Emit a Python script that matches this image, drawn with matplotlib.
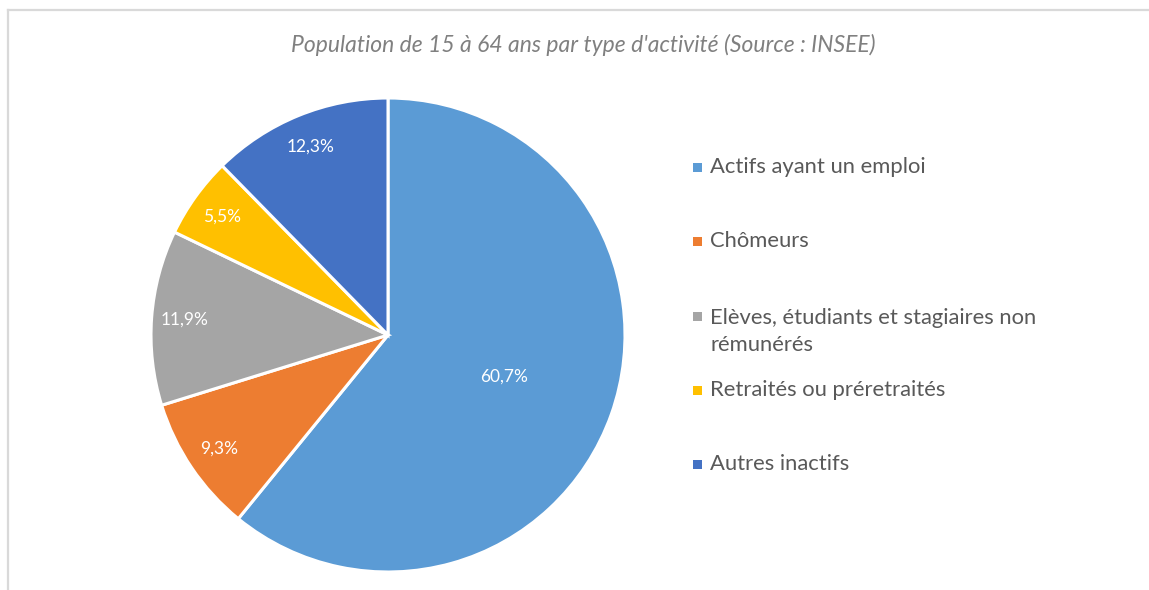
import matplotlib.pyplot as plt
from matplotlib.lines import Line2D
from matplotlib.patches import Rectangle
import numpy as np

# data
categories = ["Actifs ayant un emploi", "Chômeurs",
              "Elèves, étudiants et stagiaires non\nrémunérés",
              "Retraités ou préretraités", "Autres inactifs"]
shares = [60.7, 9.3, 11.9, 5.5, 12.3]
share_labels = ["60,7%", "9,3%", "11,9%", "5,5%", "12,3%"]
colors = ["#5B9BD5", "#ED7D31", "#A5A5A5", "#FFC000", "#4472C4"]
title = "Population de 15 à 64 ans par type d'activité (Source : INSEE)"

W, H = 1149, 590
plt.rcParams['font.family'] = ['Lato', 'DejaVu Sans']

fig = plt.figure(figsize=(W / 100, H / 100), dpi=100)
ax = fig.add_axes([0, 0, 1, 1])

cx, cy, rad = 388, H - 335, 237
wedges, _ = ax.pie(shares, colors=colors, startangle=90, counterclock=False,
                   center=(cx, cy), radius=rad,
                   wedgeprops=dict(edgecolor="white", linewidth=2.2))

# data labels inside the slices
for w, lab, s in zip(wedges, share_labels, shares):
    mid = np.deg2rad((w.theta1 + w.theta2) / 2)
    d = 0.52 if s > 50 else 0.86
    ax.text(cx + d * rad * np.cos(mid), cy + d * rad * np.sin(mid), lab,
            ha="center", va="center", color="white", fontsize=12.5)

ax.set_xlim(0, W)
ax.set_ylim(0, H)
ax.set_aspect("equal")
ax.axis("off")

# chart frame (top and left edges visible)
ax.add_line(Line2D([7.5, W], [H - 9.5, H - 9.5], color="#D9D9D9", lw=1.6))
ax.add_line(Line2D([7.5, 7.5], [0, H - 9.5], color="#D9D9D9", lw=1.6))

ax.text(583, H - 45, title, ha="center", va="center", style="italic",
        color="#808080", fontsize=16.5)

# legend
leg_y = [167, 241, 316, 390, 464]
for lab, c, y in zip(categories, colors, leg_y):
    ax.add_patch(Rectangle((693, H - y - 4.5), 9, 9, color=c, lw=0))
    if "\n" in lab:
        ax.text(710, H - y + 8, lab, ha="left", va="top", color="#595959",
                fontsize=15.8, linespacing=1.45)
    else:
        ax.text(710, H - y, lab, ha="left", va="center", color="#595959",
                fontsize=15.8)

fig.savefig("out.png", dpi=100)
